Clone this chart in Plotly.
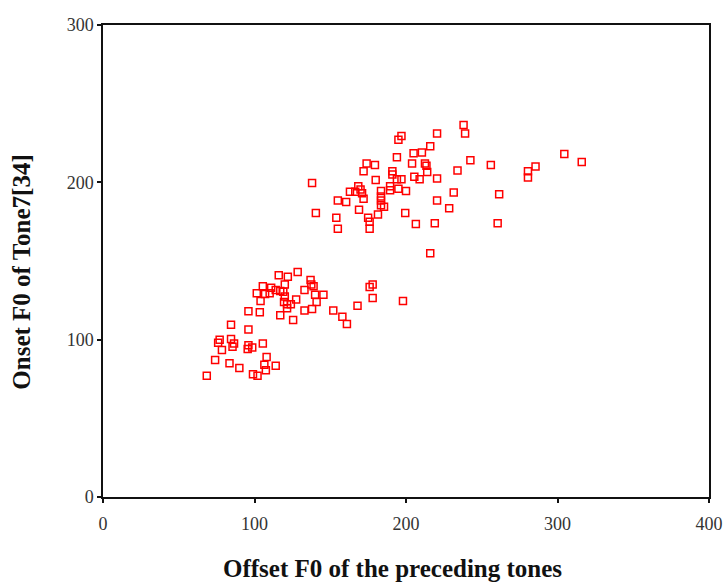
import plotly.graph_objects as go

# Offset F0 of the preceding tone (Hz) vs. onset F0 of Tone 7 (Hz)
offset_f0 = [
    # lower group
    116, 122, 128.5, 137, 137.5, 139, 133, 105.5, 111, 114, 117, 120, 119,
    101.5, 107, 110, 120, 104, 127.5, 140, 145.5, 119.5, 121.5, 124, 141,
    121.5, 96, 103.5, 133, 138, 117, 125.5, 152, 158, 161, 84.5, 96, 77,
    84.5, 76, 86.5, 85.5, 78.5, 105.5, 96, 98.5, 95.5, 74, 83.5, 90, 108,
    106.5, 114, 107.5, 99, 102, 68.5, 168, 176, 178, 178, 198,
    # upper group
    238, 220.5, 239, 304.5, 316, 242.5, 256, 234, 220.5, 285.5, 280.5,
    280.5, 231.5, 261.5, 220.5, 228.5, 219, 260.5, 216, 197, 195, 216,
    210.5, 205, 194, 204, 212.5, 213.5, 214, 174, 179.5, 172, 191, 191,
    205.5, 209, 194, 197, 180, 138, 189.5, 189.5, 195, 200, 183.5, 183.5,
    183.5, 183.5, 185.5, 168.5, 170, 163, 166.5, 171, 172, 155, 160.5, 169,
    140.5, 154, 155, 175, 176, 176, 181.5, 199.5, 206.5,
]
onset_f0 = [
    # lower group
    141, 140, 143, 138, 135, 134, 131.5, 134, 133, 131.5, 131, 135, 130.5,
    129.5, 129, 129.5, 127.5, 124.5, 125.5, 128.5, 128.5, 124, 122.5, 122.5,
    124, 120, 118, 117.5, 118.5, 119.5, 115.5, 112.5, 118.5, 114.5, 110,
    109.5, 106.5, 100, 100.5, 98, 97.5, 95.5, 93.5, 97.5, 96.5, 95, 94, 87,
    85, 82, 89, 84, 83.5, 80.5, 78, 77, 77, 121.5, 133.5, 135, 126.5, 124.5,
    # upper group
    236.5, 231, 231, 218, 213, 214, 211, 207.5, 202.5, 210, 207, 203, 193.5,
    192.5, 188.5, 183.5, 174, 174, 155, 229.5, 227, 223, 219, 218.5, 216,
    212, 212, 210.5, 206.5, 212, 211, 207, 207, 205, 203.5, 202, 202, 202,
    201.5, 199.5, 197.5, 195, 196, 194.5, 194.5, 191, 188.5, 185.5, 184.5,
    197.5, 195.5, 194, 194, 193, 189.5, 188.5, 187.5, 182.5, 180.5, 177.5,
    170.5, 177.5, 175, 170.5, 179.5, 180.5, 173.5,
]

x_ticks = [0, 100, 200, 300, 400]
y_ticks = [0, 100, 200, 300]

fig = go.Figure(
    go.Scatter(
        x=offset_f0,
        y=onset_f0,
        mode="markers",
        marker=dict(symbol="square-open", size=7, color="#ff0000",
                    line=dict(width=1.5, color="#ff0000")),
        showlegend=False,
    )
)

axis_common = dict(
    showline=True, linecolor="#111", linewidth=1.5, mirror=True,
    showgrid=False, zeroline=False, automargin=False,
    ticks="outside", ticklen=4, tickwidth=2, tickcolor="#111",
    tickfont=dict(family="Liberation Serif", size=18, color="#333"),
)

fig.update_xaxes(range=[0, 400], tickvals=x_ticks, ticktext=[str(v) for v in x_ticks],
                 ticklabelstandoff=6, **axis_common)
fig.update_yaxes(range=[0, 300], tickvals=y_ticks, ticktext=[str(v) for v in y_ticks],
                 **axis_common)

fig.update_layout(
    width=723, height=582,
    margin=dict(l=103, r=14, t=25, b=85),
    paper_bgcolor="white", plot_bgcolor="white",
    annotations=[
        dict(text="<b>Offset F0 of the preceding tones</b>", xref="paper", yref="paper",
             x=0.478, y=-0.1525, xanchor="center", yanchor="middle", showarrow=False,
             font=dict(family="Liberation Serif", size=25, color="#111")),
        dict(text="<b>Onset F0 of Tone7[34]</b>", xref="paper", yref="paper",
             x=-0.134, y=0.477, xanchor="center", yanchor="middle", textangle=-90,
             showarrow=False,
             font=dict(family="Liberation Serif", size=25, color="#111")),
    ],
)

fig.write_html("out.html")
